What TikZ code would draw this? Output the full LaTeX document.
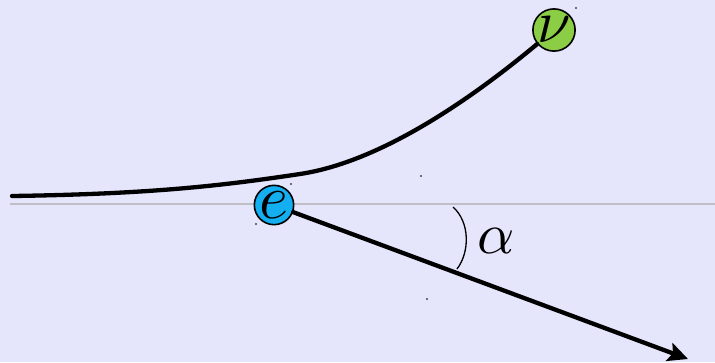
\documentclass[tikz,border=0pt]{standalone}
\usepackage{amsmath, amssymb}
\usepackage{tikz}
\usetikzlibrary{arrows.meta, positioning}
\usepackage{xcolor}
\definecolor{bglavender}{RGB}{229, 229, 252}
\definecolor{axisgrey}{RGB}{190, 190, 196}
\definecolor{elecblue}{RGB}{20, 175, 240}
\definecolor{nugreen}{RGB}{140, 205, 70}
\definecolor{dotgrey}{RGB}{70, 70, 90}

\tikzset{
  particle/.style={circle, draw=black, line width=1.6pt, inner sep=0pt, minimum size=39pt},
  track/.style={line width=4.3pt, line cap=round}
}

\begin{document}
\begin{tikzpicture}[x=1pt, y=-1pt]
        % background (fixes the margins)
        \fill[bglavender] (0,0) rectangle (715,362);
        \useasboundingbox (0,0) rectangle (715,362);
        % reference axis
        \coordinate (axL) at (10,204);
        \coordinate (axR) at (715,204);
        \draw[axisgrey, line width=1.4pt] (axL)--(axR);
        % particles
        \node[particle, fill=elecblue] (e) at (274,205) {\scalebox{6.2}{$e$}};
        \node[particle, fill=nugreen, minimum size=42pt] (nu) at (554,30) {\scalebox{6}{$\nu$}};
        % incoming track bending up to the neutrino
        \coordinate (start) at (12,196);
        \draw[track] (start) .. controls (150,194) and (220,186) .. (300,174)
                             .. controls (380,162) and (470,100) .. (nu);
        % outgoing track
        \coordinate (tip) at (688,359);
        \draw[track, -{Stealth[length=20pt, width=19pt, inset=4pt]}] (e)--(tip);
        % angle
        \draw[black, line width=1.3pt] (453,207) .. controls (470,222) and (470,252) .. (457,269);
        \node (alpha) at (496,241) {\scalebox{5.8}{$\alpha$}};
        % stray points
        \foreach \p in {(421,176),(427,299),(256,224),(291,184),(576,8)}
          \fill[dotgrey] \p circle (1.1pt);
      \end{tikzpicture}
\end{document}
